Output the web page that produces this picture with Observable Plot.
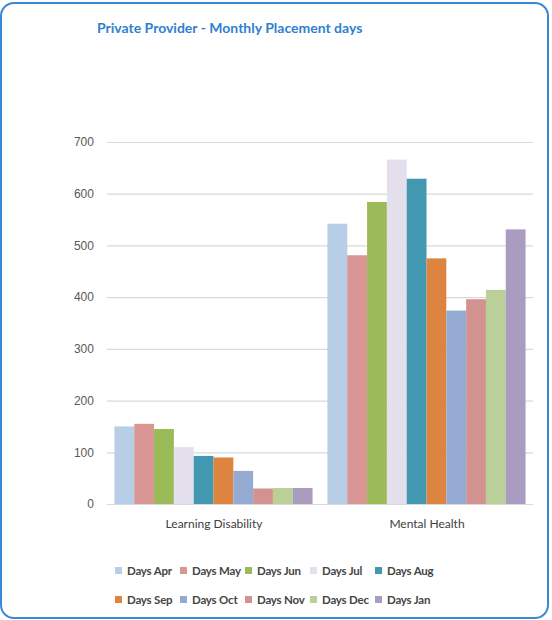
<!DOCTYPE html>
<html>
<head>
<meta charset="utf-8">
<script src="https://cdn.jsdelivr.net/npm/d3@7"></script>
<script src="https://cdn.jsdelivr.net/npm/@observablehq/plot@0.6"></script>
<style>
  html, body { margin: 0; padding: 0; background: #fff; }
  body { width: 552px; height: 620px; position: relative; overflow: hidden; font-family: Lato, "Liberation Sans", sans-serif; }
  #frame { position: absolute; left: 0; top: 2px; width: 545px; height: 613px; border: 2px solid #3a88d6; border-radius: 14px; }
  #title { position: absolute; left: 97px; top: 19px; font-size: 14px; font-weight: bold; color: #2f7fcf; white-space: nowrap; }
  #chart { position: absolute; left: 0; top: 100px; }
  #legend { position: absolute; left: 115px; top: 562px; width: 340px; display: grid; grid-template-columns: repeat(5, 65px); row-gap: 13px; }
  .item { display: flex; align-items: center; font-size: 11.5px; font-weight: bold; letter-spacing: -0.2px; color: #454545; white-space: nowrap; height: 16px; }
  .sw { width: 7px; height: 7px; margin-right: 5px; flex: none; }
</style>
</head>
<body>
<div id="frame"></div>
<div id="title">Private Provider - Monthly Placement days</div>
<div id="chart"></div>
<div id="legend"></div>
<script>
const categories = ["Learning Disability", "Mental Health"];
const months = ["Days Apr", "Days May", "Days Jun", "Days Jul", "Days Aug", "Days Sep", "Days Oct", "Days Nov", "Days Dec", "Days Jan"];
const learningDisability = [150, 155, 145, 110, 93, 90, 64, 30, 31, 31];
const mentalHealth = [542, 481, 584, 666, 629, 475, 374, 396, 414, 531];
const colors = ["#b8cde6", "#d99694", "#9bbb59", "#e4dfec", "#4298b0", "#de8441", "#95aad3", "#d29290", "#bbd098", "#aa9bc0"];
const yTicks = [0, 100, 200, 300, 400, 500, 600, 700];

const data = [];
months.forEach((m, i) => {
  data.push({category: categories[0], month: m, value: learningDisability[i]});
  data.push({category: categories[1], month: m, value: mentalHealth[i]});
});

const chart = Plot.plot({
  width: 552,
  height: 440,
  marginLeft: 107,
  marginRight: 19,
  marginTop: 42,
  marginBottom: 36,
  style: {fontFamily: "'Liberation Sans', Arial, sans-serif", background: "transparent"},
  fx: {domain: categories, paddingInner: 0.07, paddingOuter: 0.035, round: false, label: null, axis: "bottom", tickSize: 0, tickPadding: 15},
  x: {domain: months, axis: null, padding: 0, round: false},
  y: {domain: [0, 700], ticks: yTicks, label: null, tickSize: 0, tickPadding: 21},
  color: {domain: months, range: colors},
  marks: [
    Plot.ruleY(yTicks, {stroke: "#d9d9d9", strokeWidth: 1.2, insetLeft: -7.5, insetRight: -7.5}),
    Plot.barY(data, {fx: "category", x: "month", y: "value", fill: "month"})
  ]
});
d3.select(chart).selectAll("[aria-label='y-axis tick label']").attr("fill", "#595959").style("font-size", "12px");
d3.select(chart).selectAll("[aria-label='fx-axis tick label']").attr("fill", "#404040").style("font-size", "12px").style("font-family", "Lato, sans-serif");
document.getElementById("chart").appendChild(chart);

const legend = document.getElementById("legend");
months.forEach((m, i) => {
  const it = document.createElement("div");
  it.className = "item";
  it.innerHTML = `<span class="sw" style="background:${colors[i]}"></span><span>${m}</span>`;
  legend.appendChild(it);
});
</script>
</body>
</html>
